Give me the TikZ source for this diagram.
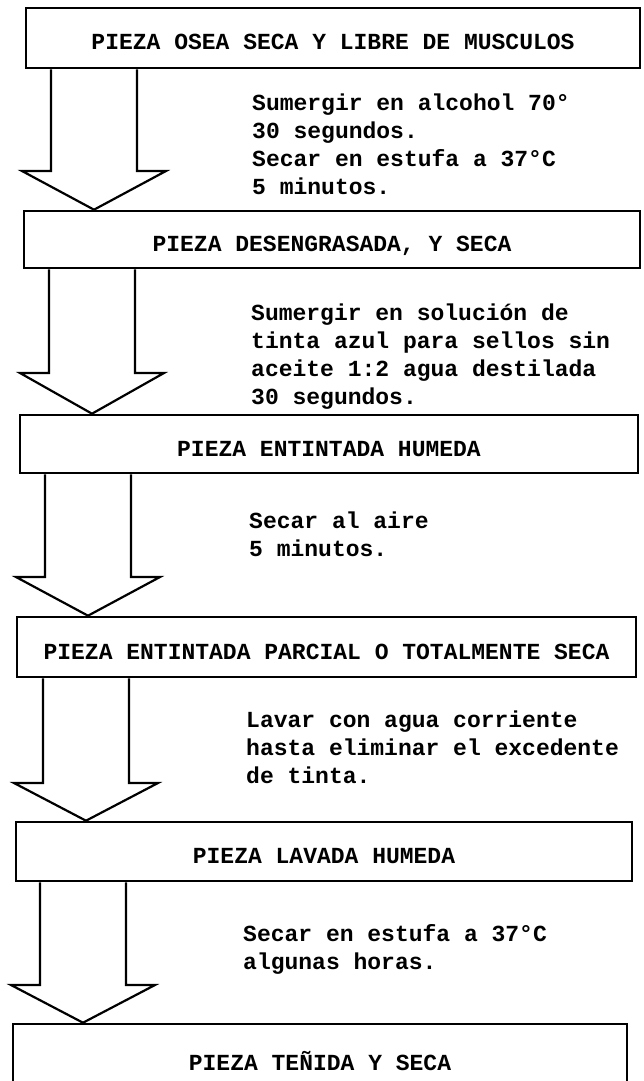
\documentclass[tikz,border=0pt]{standalone}
\usepackage{fontspec}
\usepackage{tikz}
\usetikzlibrary{calc}
\newfontfamily\machine{Liberation Mono}

\tikzset{
    boite/.style = {draw, rectangle, line width = 2.6pt, inner sep = 0pt,
        font = \machine\bfseries\fontsize{23}{28}\selectfont,
        text height = 24pt, text depth = 0pt},
    consigne/.style = {anchor = base west, align = left, inner sep = 0pt,
        font = \machine\bfseries\fontsize{23}{28}\selectfont},
    fleche/.style = {line width = 2.2pt, line join = miter}
}

\begin{document}
\begin{tikzpicture}[x = 1pt, y = -1pt]
\useasboundingbox (0, 0) rectangle (644, 1081);

% Les étapes (boîtes)
\foreach \x/\y/\larg/\haut/\nom/\texte in {
    333/38/614/60/b1/{PIEZA OSEA SECA Y LIBRE DE MUSCULOS},
    332/239.5/616/57/b2/{PIEZA DESENGRASADA, Y SECA},
    329/444/618/58/b3/{PIEZA ENTINTADA HUMEDA},
    326.5/647/619/60/b4/{PIEZA ENTINTADA PARCIAL O TOTALMENTE SECA},
    324/851.5/616/59/b5/{PIEZA LAVADA HUMEDA},
    320/1058/614/68/b6/{PIEZA TEÑIDA Y SECA}}{
    \node[boite, minimum width = \larg pt, minimum height = \haut pt]
        (\nom) at (\x, \y) {\texte};
}

% Les grosses flèches creuses entre deux étapes
\foreach \source/\dest/\xc/\yw in {b1/b2/94/171, b2/b3/92/373,
    b3/b4/88/577, b4/b5/86/783, b5/b6/83/985}{
    \draw[fleche] (\xc-43, 0 |- \source.south) -- (\xc-43, \yw)
        -- (\xc-72, \yw) -- (\xc, 0 |- \dest.north) -- (\xc+72, \yw)
        -- (\xc+43, \yw) -- (\xc+43, 0 |- \source.south);
}

% Les consignes à droite des flèches (y = ligne de base de la dernière ligne)
\foreach \x/\y/\nom/\texte in {
    252/194/t1/{Sumergir en alcohol 70°\\30 segundos.\\Secar en estufa a 37°C\\5 minutos.},
    251/404/t2/{Sumergir en solución de\\tinta azul para sellos sin\\aceite 1:2 agua destilada\\30 segundos.},
    249/556/t3/{Secar al aire\\5 minutos.},
    246/783/t4/{Lavar con agua corriente\\hasta eliminar el excedente\\de tinta.},
    243/969/t5/{Secar en estufa a 37°C\\algunas horas.}}{
    \node[consigne] (\nom) at (\x, \y) {\texte};
}
\end{tikzpicture}
\end{document}
